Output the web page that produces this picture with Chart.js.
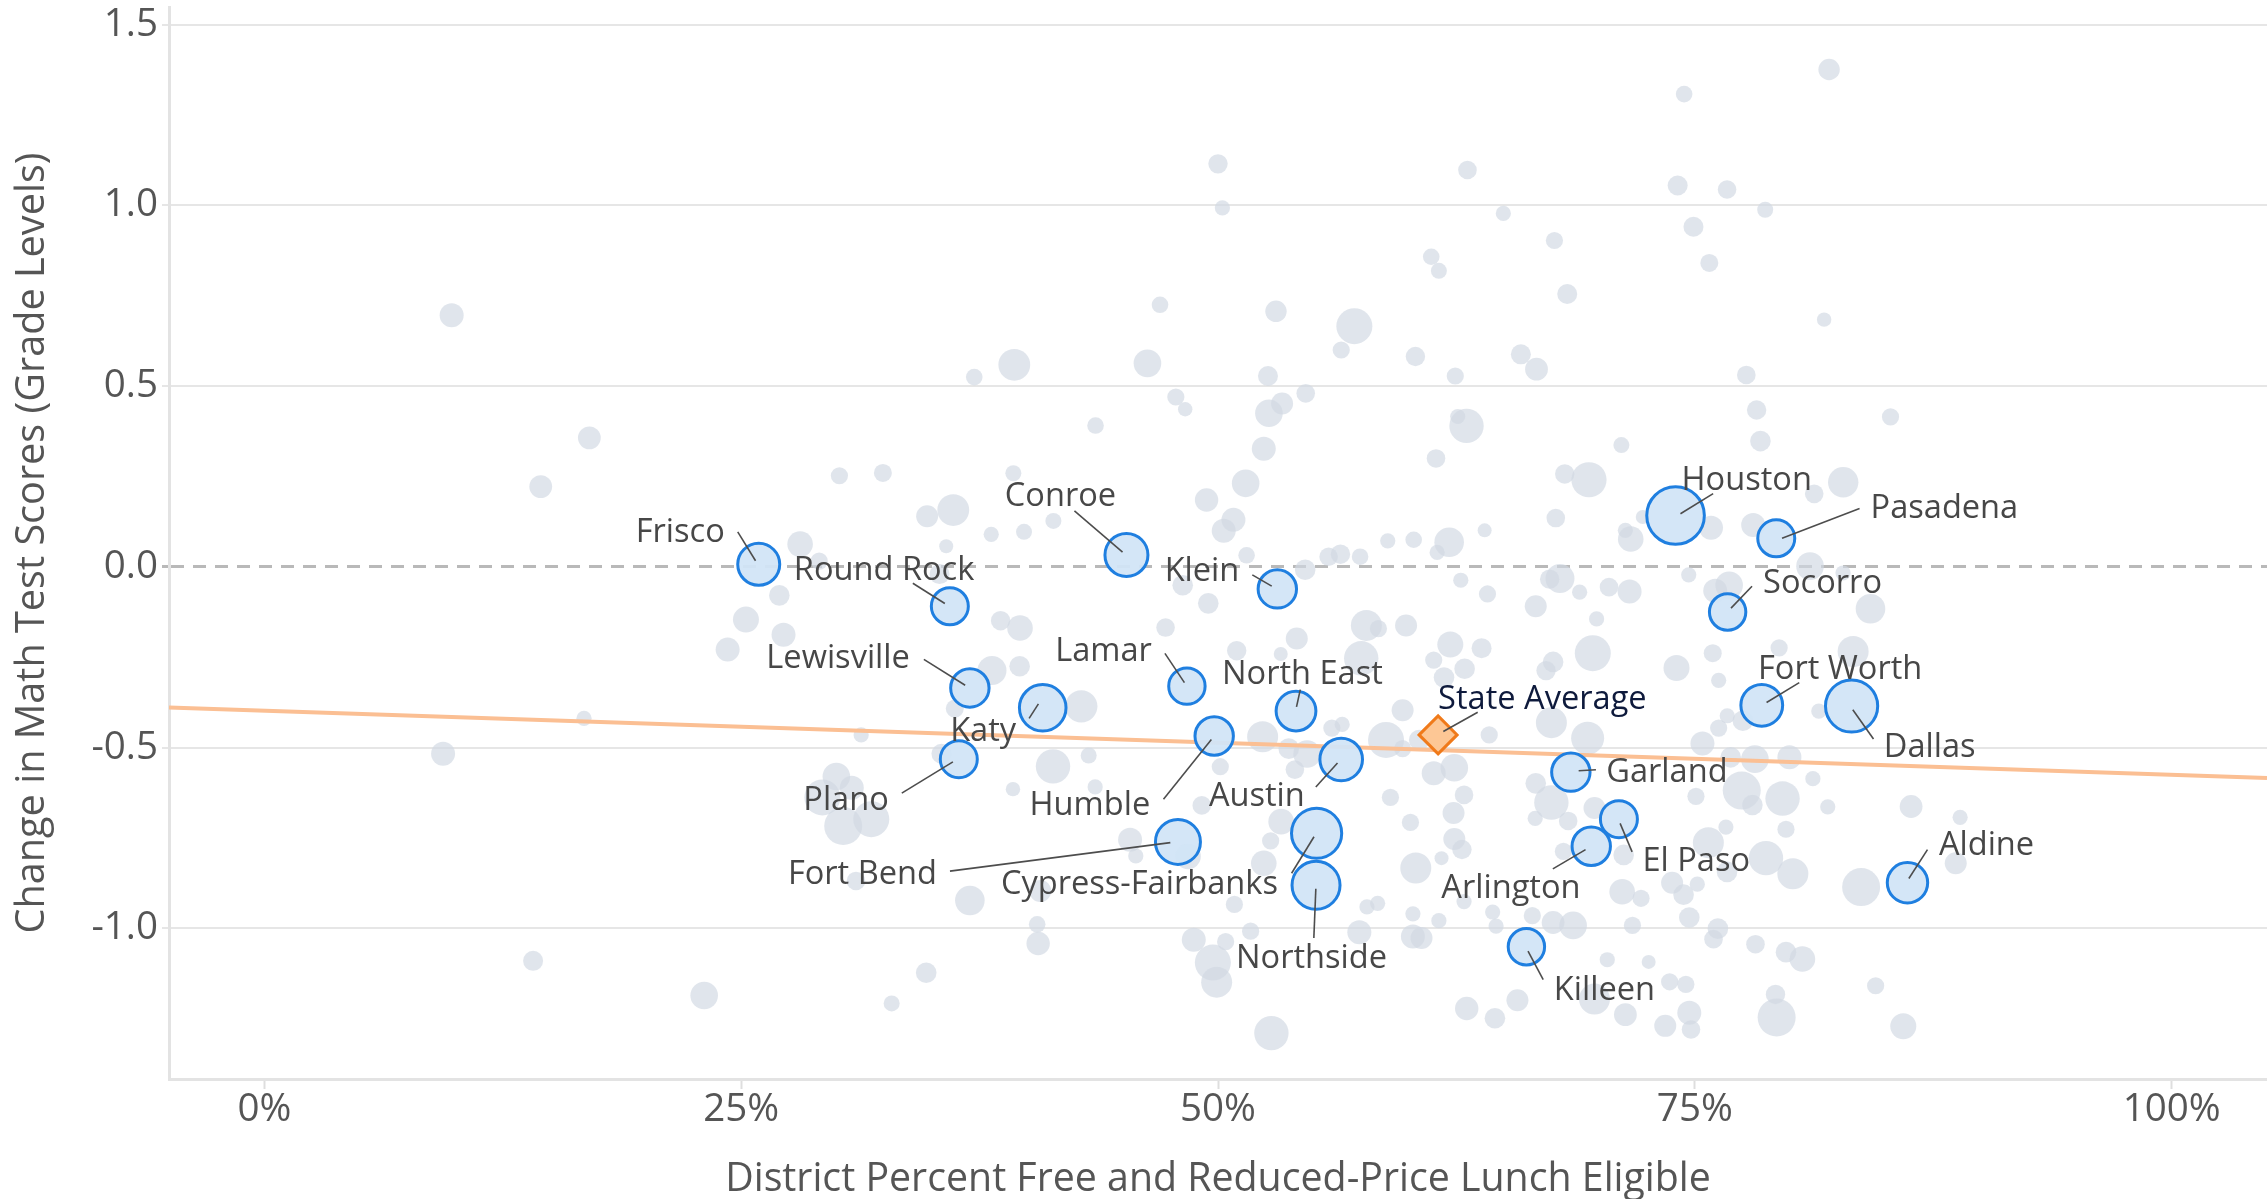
<!DOCTYPE html>
<html><head><meta charset="utf-8">
<script src="https://cdn.jsdelivr.net/npm/chart.js@4.4.1/dist/chart.umd.min.js"></script>
<style>html,body{margin:0;padding:0;background:#fff;overflow:hidden;}#wrap{width:2267px;height:1199px;position:relative;}canvas{display:block;}</style>
</head><body><div id="wrap"><canvas id="c"></canvas></div>
<script>
// ---------- data ----------
const xTickValues = [0, 25, 50, 75, 100];
const yTickValues = [-1.0, -0.5, 0, 0.5, 1.0, 1.5];

// other (unlabelled) districts: % FRL eligible, change in grade levels, bubble radius
const otherX = [9.82,17.04,14.49,30.15,32.43,34.75,28.09,
50.0,50.23,63.08,61.18,61.58,46.96,53.04,57.15,56.46,60.35,62.44,52.62,54.6,46.3,39.32,37.22,47.79,48.28,53.36,52.67,43.58,63.03,62.57,52.4,61.43,39.27,51.45,49.4,36.12,50.81,50.3,41.37,39.83,38.11,58.9,60.26,62.12,35.75,
82.04,74.44,74.1,76.69,78.69,64.96,74.93,67.64,75.76,68.31,81.78,65.88,66.7,77.7,78.24,85.26,71.15,78.44,68.18,69.45,82.78,81.26,67.71,63.98,72.27,71.36,71.64,75.85,78.06,
27.0,25.25,27.22,24.29,29.09,16.76,9.37,31.29,29.99,30.8,29.26,30.35,31.82,31.02,14.09,23.06,32.89,34.7,36.2,35.5,35.4,
38.6,39.62,39.6,38.15,42.83,41.35,43.22,39.25,43.56,47.25,49.49,48.15,51.5,54.57,55.8,56.42,57.45,61.49,62.73,57.78,58.41,59.86,54.13,50.98,53.29,57.51,62.18,61.31,62.93,61.85,59.68,58.81,52.34,55.97,56.51,53.71,54.67,54.03,59.68,60.55,61.31,62.39,50.12,49.15,59.04,62.9,62.35,60.09,53.31,52.76,45.39,45.69,48.43,52.4,62.39,62.79,61.72,60.37,36.99,40.68,50.86,57.81,58.37,60.22,61.58,62.9,40.52,40.57,48.73,50.4,51.71,57.41,60.22,60.67,49.73,49.93,52.8,63.04,
81.04,67.93,67.39,64.13,68.96,70.5,71.58,74.68,76.07,76.8,82.77,84.21,66.66,69.85,69.65,67.57,67.2,74.04,75.94,79.42,83.3,76.25,67.48,69.38,64.22,75.4,76.25,76.7,77.52,81.5,76.88,78.15,79.96,81.19,66.66,67.48,66.63,68.36,69.74,75.06,77.46,78.02,79.6,81.97,86.34,88.91,76.63,79.78,75.71,78.73,80.14,76.69,68.11,71.27,83.72,88.68,73.81,75.13,74.41,71.19,72.18,64.4,64.58,66.48,67.57,68.62,71.73,74.71,76.21,75.98,78.18,79.78,80.64,84.48,70.41,72.58,73.68,74.53,69.74,65.7,64.52,71.36,74.71,73.45,74.8,79.23,79.29,85.93,63.82];
const otherY = [0.696,0.357,0.222,0.252,0.26,0.14,0.063,
1.115,0.993,1.098,0.858,0.819,0.725,0.707,0.666,0.6,0.582,0.528,0.528,0.48,0.563,0.559,0.525,0.47,0.436,0.452,0.425,0.391,0.39,0.416,0.327,0.3,0.259,0.231,0.185,0.157,0.13,0.1,0.127,0.097,0.09,0.072,0.075,0.068,0.057,
1.376,1.308,1.055,1.044,0.988,0.978,0.941,0.903,0.841,0.755,0.684,0.588,0.547,0.531,0.434,0.415,0.337,0.348,0.257,0.241,0.234,0.202,0.135,0.101,0.138,0.101,0.077,0.108,0.116,
-0.079,-0.146,-0.188,-0.229,0.016,-0.419,-0.517,-0.465,-0.58,-0.611,-0.638,-0.717,-0.698,-0.869,-1.09,-1.186,-1.208,-1.123,-0.392,-0.517,-0.02,
-0.149,-0.169,-0.275,-0.287,-0.386,-0.552,-0.522,-0.615,-0.609,-0.168,-0.101,-0.051,0.032,-0.008,0.028,0.035,0.028,0.04,-0.037,-0.162,-0.171,-0.162,-0.198,-0.232,-0.241,-0.253,-0.215,-0.258,-0.282,-0.306,-0.397,-0.479,-0.47,-0.446,-0.436,-0.503,-0.518,-0.561,-0.503,-0.479,-0.571,-0.556,-0.553,-0.66,-0.638,-0.631,-0.681,-0.707,-0.705,-0.758,-0.755,-0.8,-0.801,-0.82,-0.753,-0.782,-0.806,-0.833,-0.923,-0.897,-0.934,-0.941,-0.931,-0.96,-0.979,-0.926,-0.989,-1.042,-1.032,-1.037,-1.008,-1.011,-1.023,-1.027,-1.095,-1.149,-1.29,-1.222,
0.002,-0.032,-0.034,-0.075,-0.07,-0.056,-0.068,-0.022,-0.066,-0.051,-0.017,-0.116,-0.109,-0.144,-0.239,-0.263,-0.287,-0.28,-0.239,-0.224,-0.234,-0.314,-0.431,-0.474,-0.465,-0.489,-0.446,-0.412,-0.426,-0.399,-0.527,-0.532,-0.527,-0.586,-0.599,-0.652,-0.696,-0.703,-0.667,-0.635,-0.619,-0.659,-0.641,-0.664,-0.663,-0.693,-0.72,-0.726,-0.763,-0.806,-0.849,-0.844,-0.787,-0.797,-0.886,-0.82,-0.874,-0.878,-0.907,-0.899,-0.917,-0.955,-0.994,-0.965,-0.984,-0.992,-0.992,-0.97,-1.001,-1.03,-1.044,-1.066,-1.085,-1.159,-1.087,-1.093,-1.148,-1.155,-1.196,-1.199,-1.249,-1.239,-1.234,-1.27,-1.28,-1.183,-1.247,-1.271,-0.225];
const otherR = [12,11.4,11.4,8.6,9,11,12.8,
9.7,7.6,9.3,8.3,8,8.3,10.7,18,8.6,9.7,8.6,10,9.3,13.8,15.9,8.3,8.6,7.2,11,13.8,8.3,17.2,7.6,12,9.3,8,13.8,11.7,15.9,12,12,8,8,7.6,7.6,8.3,14.8,7,
10.7,8.3,10,9.3,8,7.6,10,8.6,9,10,7.2,10,11.4,9.3,9.7,8.6,8,10.3,9.7,17.6,15.2,9.3,9.3,7,7,7.6,12.8,12,12,
10.3,13,12,12,8.6,7.6,12,7.6,13.8,12,18,19,18,9.3,10,13.8,8,10.3,9,10,10,
9.7,12.8,10.3,14.5,16.2,17.2,8,7.2,7.6,9.3,10.3,10.3,8.3,10.3,9.3,9.7,8.3,7.6,7.6,15.5,8.6,11,11,9.7,7,17.2,13,8.6,10.3,10.3,11,18,15.5,8.6,7.6,10.3,13.8,9.3,8.6,10.3,12,13.8,8.6,9.3,8.6,9.3,11,8.6,12.8,8.6,12,7.6,12.8,12.8,11,9.7,7,15.5,14.8,11,8.6,7.6,7.6,7.6,7.6,7.6,8.3,11.7,12,8.6,8.6,12,12,11,18,15.5,17.2,11.7,
13.8,14.5,9.7,8.6,7.6,9.3,12,7.6,12,13.8,7.6,14.8,11,7.6,18,10.3,9.7,13,9,8.6,15.5,7.6,15.5,16.5,8.6,12,8.6,7.6,10.3,7.6,10.3,13.8,12,7.6,10.3,17.2,7.6,9.3,11,8.6,19,10.3,17.2,7.6,11.4,7.6,7.6,8.6,15.5,17.2,15.5,10.3,8.6,10.3,19,11,11,7.6,10.3,12.8,8.6,7.6,7.6,8.6,11.4,13.8,8.6,10.3,10.3,9.3,9.3,10.3,12.8,8.6,7.6,7,8.6,8.6,15.5,11,10.3,11.4,12,11,9.3,9.7,19,13,10];

// labelled districts
const districtNames = ['Frisco','Round Rock','Conroe','Klein','Lewisville','Katy','Lamar','North East','Plano','Humble','Austin','Fort Bend','Cypress-Fairbanks','Northside','Houston','Pasadena','Socorro','Fort Worth','Dallas','Garland','El Paso','Arlington','Aldine','Killeen'];
const districtX = [25.92,35.94,45.2,53.11,36.99,40.81,48.37,54.09,36.41,49.8,56.46,47.9,55.17,55.14,73.99,79.27,76.72,78.51,83.22,68.5,71.02,69.57,86.15,66.17];
const districtY = [0.007,-0.109,0.033,-0.061,-0.335,-0.39,-0.33,-0.399,-0.532,-0.468,-0.533,-0.761,-0.737,-0.881,0.142,0.079,-0.125,-0.383,-0.385,-0.568,-0.698,-0.773,-0.874,-1.051];
const districtR = [21,18.5,21.5,19.2,19.2,23.3,18.2,19.9,18.5,19.2,21.3,22.5,25.1,24,28.8,18.5,18.2,20.9,26.1,19.2,18.5,19.2,20.2,18.2];

const stateAvgX = [61.54];
const stateAvgY = [-0.465];

// fitted trend line end points
const trendX = [-5, 105];
const trendY = [-0.389, -0.584];

// ---------- text ----------
const X_TITLE = 'District Percent Free and Reduced-Price Lunch Eligible';
const Y_TITLE = 'Change in Math Test Scores (Grade Levels)';
const FAMILY = '"Open Sans"';

// fit font sizes to the measured widths of the reference texts
const mctx = document.createElement('canvas').getContext('2d');
function fitSize(text, target) { mctx.font = '100px ' + FAMILY; return 100 * target / mctx.measureText(text).width; }
const xTitleSize = fitSize(X_TITLE, 986);
const yTitleSize = fitSize(Y_TITLE, 781);
const tickSize = fitSize('100%', 98);
const labelSize = fitSize('Cypress-Fairbanks', 277);

// ---------- label layout (pixel offsets from each mark) ----------
const labelLayout = {
  'Frisco':            {t:[-34,-34], a:'right',  s:[-21,-32.5], e:[-3.2,-3.6]},
  'Round Rock':        {t:[-156,-38],a:'left',   s:[-37,-23],   e:[-5,-2.7]},
  'Conroe':            {t:[-66,-61], a:'center', s:[-52,-44],   e:[-3.9,-2.9]},
  'Klein':             {t:[-38,-20], a:'right',  s:[-25,-14],   e:[-5.6,-2.8]},
  'Lewisville':        {t:[-60,-32], a:'right',  s:[-46,-28.5], e:[-4.7,-2.7]},
  'Katy':              {t:[-26.6,21],a:'right',  s:[-13.6,10.5],e:[-4.3,-3.9]},
  'Lamar':             {t:[-35,-37.6],a:'right', s:[-22,-32.7], e:[-2.5,-3.5]},
  'North East':        {t:[-74,-39], a:'left',   s:[4.3,-21.5], e:[0.5,-4.2]},
  'Plano':             {t:[-70,39],  a:'right',  s:[-57,34],    e:[-5.9,2.7]},
  'Humble':            {t:[-64,66.7],a:'right',  s:[-50.7,63.3],e:[-2.8,3.5]},
  'Austin':            {t:[-36.4,34.7],a:'right',s:[-25.4,27.5],e:[-3.7,3.5]},
  'Fort Bend':         {t:[-241,30.3],a:'right', s:[-228,29.2], e:[-7.6,0.7]},
  'Cypress-Fairbanks': {t:[-38.7,48.3],a:'right',s:[-25,40],    e:[-2.6,3.5]},
  'Northside':         {t:[-4.5,70.8],a:'center',s:[-2.2,52.8], e:[-0.2,3.4]},
  'Houston':           {t:[6,-37.5], a:'left',   s:[37.6,-21.9],e:[4.9,-1.8]},
  'Pasadena':          {t:[94.3,-32.3],a:'left', s:[83.3,-29.8],e:[5.8,0]},
  'Socorro':           {t:[35.5,-31],a:'left',   s:[24.4,-25.8],e:[3.4,-3.9]},
  'Fort Worth':        {t:[-3.8,-38.6],a:'left', s:[37.5,-22.6],e:[4.8,-2.8]},
  'Dallas':            {t:[32.2,39.2],a:'left',  s:[21.9,33],   e:[1.2,3.8]},
  'Garland':           {t:[35.4,-2.4],a:'left',  s:[25.1,-2.4], e:[7.8,-1.4]},
  'El Paso':           {t:[23.5,39.6],a:'left',  s:[13.2,32.7], e:[1.2,4.2]},
  'Arlington':         {t:[-10.7,40.1],a:'right',s:[-38.4,22.6],e:[-5.7,3.4]},
  'Aldine':            {t:[31.4,-39.4],a:'left', s:[20,-33.1],  e:[1.4,-4.2]},
  'Killeen':           {t:[27.4,41], a:'left',   s:[16.8,33],   e:[1.6,4.5]},
  'State Average':     {t:[0,-38.2], a:'left',   s:[39.6,-22.6],e:[5.2,-3.4]}
};

// ---------- chart ----------
Chart.defaults.font.family = FAMILY;

const labelPlugin = {
  id: 'districtLabels',
  afterDatasetsDraw(chart) {
    const {ctx, scales} = chart;
    const xs = scales.x, ys = scales.y;
    const items = districtNames.map((n, i) => ({name: n, px: xs.getPixelForValue(districtX[i]), py: ys.getPixelForValue(districtY[i]), color: '#474747'}));
    items.push({name: 'State Average', px: xs.getPixelForValue(stateAvgX[0]), py: ys.getPixelForValue(stateAvgY[0]), color: '#0e1a3c'});
    ctx.save();
    ctx.font = labelSize.toFixed(2) + 'px ' + FAMILY;
    const capH = ctx.measureText('H').actualBoundingBoxAscent;
    for (const it of items) {
      const L = labelLayout[it.name];
      ctx.strokeStyle = '#4d4d4d';
      ctx.lineWidth = 1.6;
      ctx.beginPath();
      ctx.moveTo(it.px + L.s[0], it.py + L.s[1]);
      ctx.lineTo(it.px + L.e[0], it.py + L.e[1]);
      ctx.stroke();
      ctx.fillStyle = it.color;
      ctx.textAlign = L.a;
      ctx.textBaseline = 'alphabetic';
      ctx.fillText(it.name, it.px + L.t[0], it.py + L.t[1] + capH / 2);
    }
    ctx.restore();
  }
};

const grayData = otherX.map((v, i) => ({x: v, y: otherY[i], r: otherR[i]}));
const districtData = districtX.map((v, i) => ({x: v, y: districtY[i], r: districtR[i]}));
const avgData = stateAvgX.map((v, i) => ({x: v, y: stateAvgY[i]}));
const trendData = trendX.map((v, i) => ({x: v, y: trendY[i]}));

const noPad = (s) => { s.paddingTop = 0; s.paddingBottom = 0; s.paddingLeft = 0; s.paddingRight = 0; };

new Chart(document.getElementById('c'), {
  type: 'bubble',
  data: {
    datasets: [
      {type: 'bubble', data: grayData, backgroundColor: 'rgba(210,217,227,0.68)', borderWidth: 0, order: 4},
      {type: 'line', data: trendData, borderColor: '#fbbf93', borderWidth: 4, pointRadius: 0, fill: false, tension: 0, order: 3},
      {type: 'bubble', data: districtData, backgroundColor: 'rgba(209,228,247,0.94)', borderColor: '#1f7fe0', borderWidth: 3, order: 2},
      {type: 'scatter', data: avgData, pointStyle: 'rectRot', pointRadius: 19, backgroundColor: '#fdc795', borderColor: '#f07a1a', borderWidth: 3, order: 1}
    ]
  },
  options: {
    responsive: true,
    maintainAspectRatio: false,
    animation: false,
    devicePixelRatio: 1,
    layout: {autoPadding: false, padding: {top: 7, right: 0, bottom: 0, left: 0}},
    plugins: {legend: {display: false}, tooltip: {enabled: false}},
    events: [],
    scales: {
      x: {
        type: 'linear', min: -5, max: 105,
        afterFit: (s) => { s.height = 120; noPad(s); },
        afterBuildTicks: (s) => { s.ticks = xTickValues.map(v => ({value: v})); },
        ticks: {callback: (v) => v + '%', color: '#555555', font: {size: tickSize, family: FAMILY}, padding: -2, maxRotation: 0},
        grid: {drawOnChartArea: false, drawTicks: true, tickLength: 10, tickColor: '#dedede', tickWidth: 2},
        border: {display: true, color: '#e3e3e3', width: 3},
        title: {display: true, text: X_TITLE, color: '#555555', font: {size: xTitleSize, family: FAMILY, lineHeight: 1.2}, padding: {top: 0, bottom: 1199 - 1180 - xTitleSize * 0.6}}
      },
      y: {
        type: 'linear', min: -1.417, max: 1.549,
        afterFit: (s) => { s.width = 169; noPad(s); },
        afterBuildTicks: (s) => { s.ticks = yTickValues.map(v => ({value: v})); },
        ticks: {callback: (v) => v.toFixed(1), color: '#555555', font: {size: tickSize, family: FAMILY}, padding: 4},
        grid: {
          color: (c) => (c.tick && c.tick.value === 0) ? '#b9b9b9' : '#e6e6e6',
          lineWidth: (c) => (c.tick && c.tick.value === 0) ? 3 : 2,
          tickLength: 7
        },
        border: {display: true, color: '#e3e3e3', width: 3, dash: (c) => (c.tick && c.tick.value === 0) ? [13, 9] : []},
        title: {display: true, text: Y_TITLE, color: '#555555', font: {size: yTitleSize, family: FAMILY, lineHeight: 1.2}, padding: {top: Math.max(0, 33 - yTitleSize * 0.6), bottom: 0}}
      }
    }
  },
  plugins: [labelPlugin]
});
</script>
</body></html>
